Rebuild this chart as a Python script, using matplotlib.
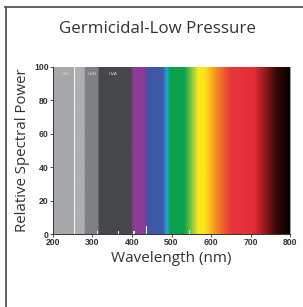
import matplotlib
matplotlib.use("Agg")
import matplotlib.pyplot as plt
import numpy as np
from matplotlib.colors import LinearSegmentedColormap
from matplotlib.lines import Line2D

# Data
title = "Germicidal-Low Pressure"
xlabel = "Wavelength (nm)"
ylabel = "Relative Spectral Power"
xticks = [200, 300, 400, 500, 600, 700, 800]
yticks = [0, 20, 40, 60, 80, 100]
line_nm = [254, 313, 365, 405, 436, 546]
line_power = [100, 2.0, 1.5, 2.0, 5.0, 2.5]
band_labels = ["UVC", "UVB", "UVA"]
band_label_nm = [233, 298, 352]
# background spectrum colour stops (nm, colour)
stop_nm = [200, 254, 256, 279, 281, 314, 316, 398, 402, 428, 442, 478, 488, 496, 532, 552, 568, 585,
           605, 625, 650, 710, 735, 765, 800]
stop_col = ["#a7a8ab", "#a7a8ab", "#aeafb1", "#aeafb1", "#7e8083", "#7e8083", "#47484b", "#47484b",
            "#8c3b96", "#8e3d97", "#3e56a5", "#3f5aa8", "#1ea6da", "#0ba24c", "#0ba24c", "#8cc63f",
            "#fbe81a", "#fde21a", "#f8a51d", "#f26e2b", "#e8353a", "#e52d35", "#9a1c1f", "#3a0808",
            "#050000"]

fig = plt.figure(figsize=(3.03, 3.07), dpi=100)
ax = fig.add_axes([53/303, 1-234/307, (290-53)/303, (234-67)/307])

pos = [(n - 200) / 600 for n in stop_nm]
cmap = LinearSegmentedColormap.from_list("spec", list(zip(pos, stop_col)), N=1024)
grad = np.linspace(0, 1, 1200).reshape(1, -1)
ax.imshow(grad, extent=[200, 800, 0, 100], aspect="auto", cmap=cmap, origin="lower",
          interpolation="bilinear", zorder=0)
ax.bar(line_nm, line_power, width=3.0, color="white", alpha=0.9, zorder=2, linewidth=0)

for lab, nm in zip(band_labels, band_label_nm):
    ax.text(nm, 97, lab, color="#d8d8d8", fontsize=3.2, ha="center", va="top",
            family="DejaVu Sans", zorder=3)

ax.set_xlim(200, 800)
ax.set_ylim(0, 100)
ax.set_xticks(xticks)
ax.set_yticks(yticks)
ax.tick_params(axis="both", length=2.5, width=0.6, color="#333333", labelsize=6.2, pad=0.5)
for lbl in ax.get_xticklabels() + ax.get_yticklabels():
    lbl.set_fontweight("bold")
    lbl.set_color("#333333")
    lbl.set_family("Liberation Sans")
ax.spines["top"].set_visible(False)
ax.spines["right"].set_linewidth(0.4)
ax.spines["right"].set_color("#555555")
for s in ["left", "bottom"]:
    ax.spines[s].set_linewidth(0.7)
    ax.spines[s].set_color("#333333")

ax.set_xlabel(xlabel, fontsize=11, family="Open Sans", color="#333333", labelpad=3)
ax.set_ylabel(ylabel, fontsize=10.8, family="Open Sans", color="#333333", labelpad=3)
fig.text(157/303, 1-29/307, title, fontsize=12.2, family="Open Sans", color="#333333",
         ha="center", va="center")

fig.add_artist(Line2D([5.5/303, 5.5/303], [0, 1-7/307], transform=fig.transFigure,
                      color="#555555", linewidth=1.3))
fig.add_artist(Line2D([5/303, 1], [1-7/307, 1-7/307], transform=fig.transFigure,
                      color="#555555", linewidth=1.3))

fig.savefig("out.png", dpi=100)
